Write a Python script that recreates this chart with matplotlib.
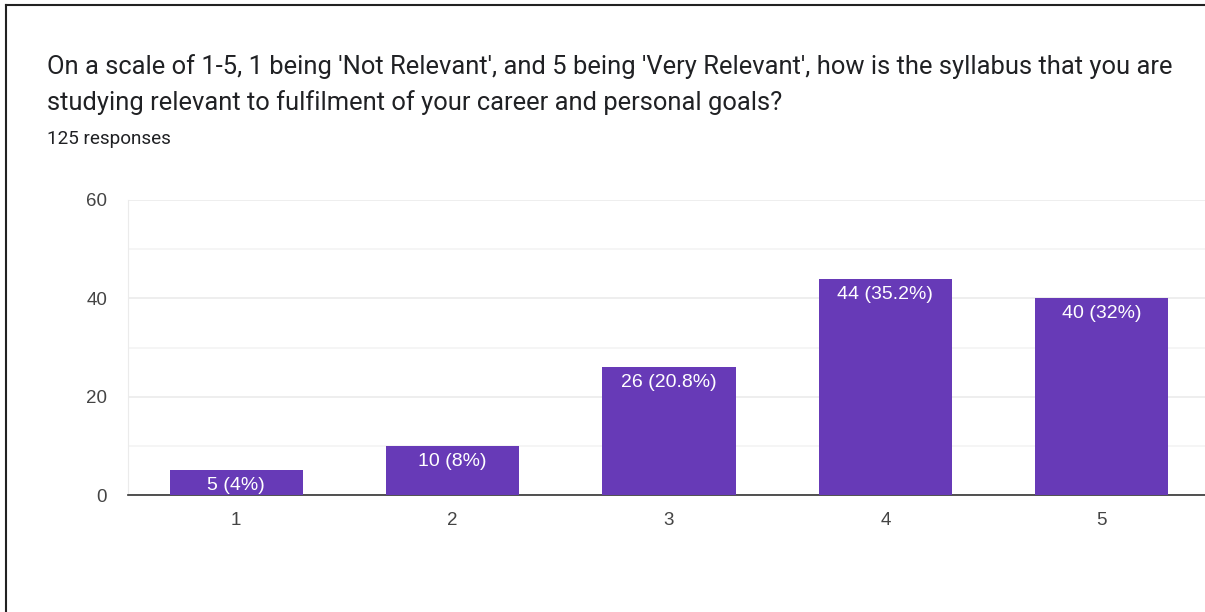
import matplotlib
matplotlib.use('Agg')
import matplotlib.pyplot as plt
from matplotlib.lines import Line2D

plt.rcParams['font.family'] = ['Roboto', 'DejaVu Sans']

title_lines = ["On a scale of 1-5, 1 being 'Not Relevant', and 5 being 'Very Relevant', how is the syllabus that you are",
               "studying relevant to fulfilment of your career and personal goals?"]
subtitle = "125 responses"
categories = ['1', '2', '3', '4', '5']
counts = [5, 10, 26, 44, 40]
labels = ['5 (4%)', '10 (8%)', '26 (20.8%)', '44 (35.2%)', '40 (32%)']
yticks = [0, 20, 40, 60]

W, H = 1205, 612
fig = plt.figure(figsize=(W / 100, H / 100), dpi=100)

# page frame (left and top edge)
fig.add_artist(Line2D([6 / W, 6 / W], [0, 1 - 5 / H], color='#222222', lw=1.5))
fig.add_artist(Line2D([6 / W, 1], [1 - 5 / H, 1 - 5 / H], color='#222222', lw=1.5))

# question title, two lines
for line, base in zip(title_lines, [74, 110]):
    fig.text(47 / W, 1 - base / H, line, fontsize=18.4, color='#202124',
             va='baseline', ha='left')
fig.text(47 / W, 1 - 144 / H, subtitle, fontsize=13.6, color='#202124',
         va='baseline', ha='left')

ax = fig.add_axes([128 / W, (H - 495) / H, (1210 - 128) / W, 295 / H])
x = list(range(1, len(categories) + 1))
ax.bar(x, counts, width=0.615, color='#673ab7', zorder=3)
for xi, c, lab in zip(x, counts, labels):
    ax.annotate(lab, (xi, c), xytext=(0, -5), textcoords='offset points',
                ha='center', va='top', color='white', fontsize=14,
                family='Liberation Sans', zorder=4)

ax.set_xlim(0.5, 5.5)
ax.set_ylim(0, 60)
ax.set_xticks(x)
ax.set_xticklabels(categories, family='Liberation Sans')
ax.set_yticks(yticks)
ax.set_yticklabels([str(v) for v in yticks], family='Liberation Sans')
ax.set_yticks([10, 30, 50], minor=True)
ax.grid(axis='y', which='major', color='#ebebeb', lw=1.2, zorder=0)
ax.grid(axis='y', which='minor', color='#f3f3f3', lw=1.2, zorder=0)
ax.tick_params(axis='both', which='both', length=0, labelsize=13.5, labelcolor='#444444')
ax.tick_params(axis='y', pad=15)
ax.tick_params(axis='x', pad=12)
for s in ['top', 'right']:
    ax.spines[s].set_visible(False)
ax.spines['left'].set_color('#ebebeb')
ax.spines['bottom'].set_color('#333333')
ax.spines['bottom'].set_linewidth(1.2)

fig.savefig('out.png', dpi=100)
